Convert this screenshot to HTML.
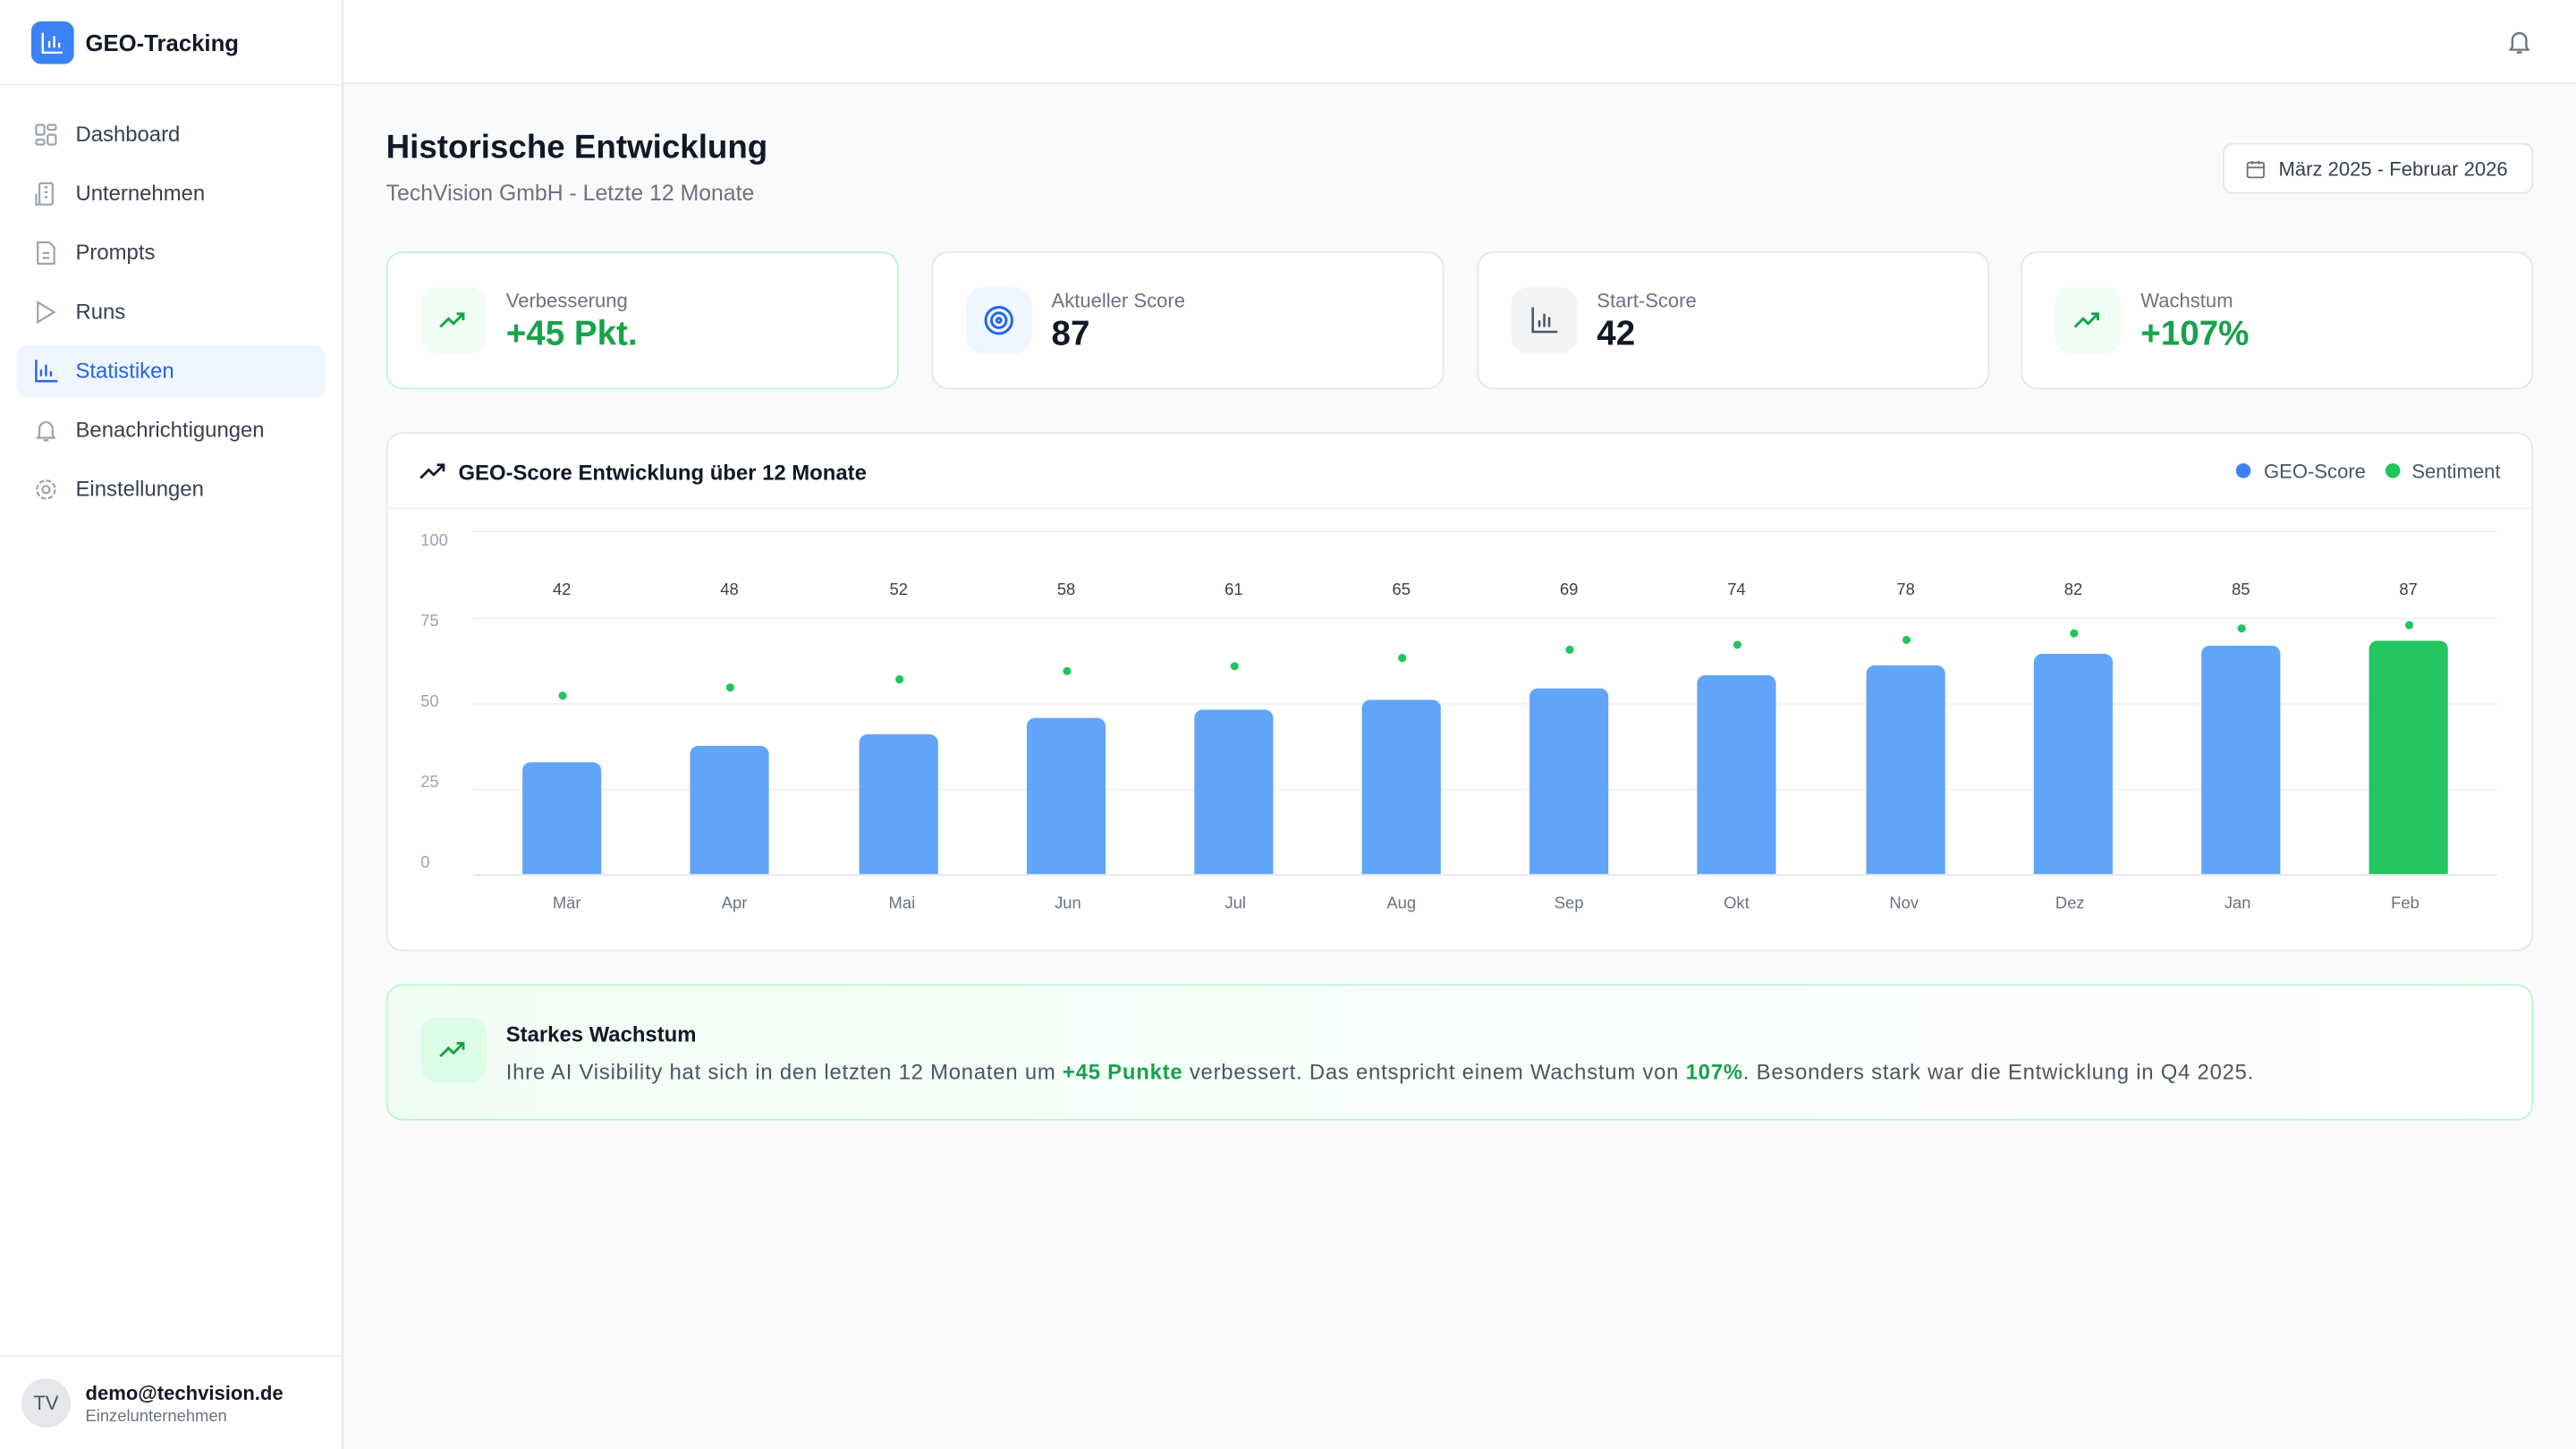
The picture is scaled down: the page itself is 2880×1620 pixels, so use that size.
<!DOCTYPE html>
<html><head><meta charset="utf-8"><style>
*{margin:0;padding:0;box-sizing:border-box}
html,body{width:2880px;height:1620px;overflow:hidden;background:#f9fafb;font-family:"Liberation Sans",sans-serif}
#s{position:absolute;left:0;top:0;width:1568px;height:882px;transform:scale(1.836735);transform-origin:0 0;background:#f9fafb}
.a{position:absolute}
.side{left:0;top:0;width:209px;height:882px;background:#fff;border-right:1px solid #e5e7eb}
.nav{position:absolute;left:10px;width:188px;height:32px;border-radius:7px;font-size:13px;color:#374151;padding-left:36px;line-height:32px}
.nav svg{position:absolute;left:10px;top:8px}
.card{background:#fff;border:1px solid #e5e7eb;border-radius:10px}
.ib{position:absolute;left:20px;top:21px;width:40px;height:40px;border-radius:10px}
.ib svg{position:absolute;left:10px;top:10px}
.cl{position:absolute;left:72px;top:22px;font-size:12px;color:#6b7280}
.cv{position:absolute;left:72px;top:38px;font-size:21px;font-weight:bold;color:#111827}
.g{color:#16a34a}
.yl{font-size:10px;color:#9ca3af}
.gl{height:1px;background:#f0f1f3;left:288px;width:1232px}
.bar{background:#60a5fa;border-radius:5px 5px 0 0;width:48px}
.dot{width:5px;height:5px;border-radius:50%;background:#22c55e;box-shadow:0 0 0 1px #fff}
.nl{font-size:10px;color:#374151;width:40px;text-align:center}
.ml{font-size:10px;color:#6b7280;width:40px;text-align:center}
</style></head><body><div id="s">
<div class="a side">
 <div class="a" style="left:19px;top:13px;width:26px;height:26px;border-radius:6px;background:#3b82f6">
  <svg class="a" style="left:6px;top:6px" width="14" height="14" viewBox="0 0 14 14" fill="none" stroke="#fff" stroke-width="1.3"><path d="M1 1v12h12M5 10V6M8 10V3M11 10V7"/></svg></div>
 <div class="a" style="left:52px;top:18px;font-size:14px;font-weight:bold;color:#111827">GEO-Tracking</div>
 <div class="a" style="left:0;top:51px;width:209px;height:1px;background:#eceef1"></div>
 <div class="nav" style="top:66px"><svg width="16" height="16" viewBox="0 0 16 16" fill="none" stroke="#9ca3af" stroke-width="1.2"><rect x="2" y="2" width="5" height="6" rx="1"/><rect x="9" y="2" width="5" height="3" rx="1"/><rect x="9" y="8" width="5" height="6" rx="1"/><rect x="2" y="11" width="5" height="3" rx="1"/></svg>Dashboard</div>
 <div class="nav" style="top:102px"><svg width="16" height="16" viewBox="0 0 16 16" fill="none" stroke="#9ca3af" stroke-width="1.2"><rect x="4" y="1.5" width="8" height="13" rx="1"/><path d="M2 8v6.5h2M7 4h2M7 7h2M7 10h2"/></svg>Unternehmen</div>
 <div class="nav" style="top:138px"><svg width="16" height="16" viewBox="0 0 16 16" fill="none" stroke="#9ca3af" stroke-width="1.2"><path d="M3 1.5h7l3 3v10H3z M6 8h4M6 11h4"/></svg>Prompts</div>
 <div class="nav" style="top:174px"><svg width="16" height="16" viewBox="0 0 16 16" fill="none" stroke="#9ca3af" stroke-width="1.2"><path d="M3 2l10 6-10 6z"/></svg>Runs</div>
 <div class="nav" style="top:210px;background:#eff6ff;color:#2563eb"><svg width="16" height="16" viewBox="0 0 16 16" fill="none" stroke="#2563eb" stroke-width="1.3"><path d="M2 1v13h13M5 11V7M8 11V4M11 11V8"/></svg>Statistiken</div>
 <div class="nav" style="top:246px"><svg width="16" height="16" viewBox="0 0 16 16" fill="none" stroke="#9ca3af" stroke-width="1.2"><path d="M4 11V7a4 4 0 018 0v4l1 1.5H3z M6.5 14h3"/></svg>Benachrichtigungen</div>
 <div class="nav" style="top:282px"><svg width="16" height="16" viewBox="0 0 16 16" fill="none" stroke="#9ca3af" stroke-width="1.2"><circle cx="8" cy="8" r="2.2"/><circle cx="8" cy="8" r="5.5" stroke-dasharray="3 1.3"/></svg>Einstellungen</div>
 <div class="a" style="left:0;top:825px;width:209px;height:1px;background:#eceef1"></div>
 <div class="a" style="left:13px;top:839px;width:30px;height:30px;border-radius:50%;background:#e5e7eb;font-size:12px;color:#4b5563;text-align:center;line-height:30px">TV</div>
 <div class="a" style="left:52px;top:841px;font-size:12px;font-weight:bold;color:#111827">demo@techvision.de</div>
 <div class="a" style="left:52px;top:857px;font-size:10px;color:#6b7280">Einzelunternehmen</div>
</div>
<div class="a" style="left:209px;top:0;width:1359px;height:51px;background:#fff;border-bottom:1px solid #e5e7eb"></div>
<svg class="a" style="left:1525px;top:17px" width="17" height="17" viewBox="0 0 16 16" fill="none" stroke="#6b7280" stroke-width="1.2"><path d="M4 11V7a4 4 0 018 0v4l1 1.5H3z M6.5 14h3"/></svg>
<div class="a" style="left:235px;top:79px;font-size:20px;font-weight:bold;color:#111827">Historische Entwicklung</div>
<div class="a" style="left:235px;top:110px;font-size:13.5px;color:#6b7280">TechVision GmbH - Letzte 12 Monate</div>
<div class="a" style="left:1353px;top:87px;width:189px;height:31px;background:#fff;border:1px solid #e5e7eb;border-radius:6px;font-size:12px;color:#374151;line-height:30px;padding-left:33px">März 2025 - Februar 2026
 <svg class="a" style="left:13px;top:9px" width="12" height="12" viewBox="0 0 12 12" fill="none" stroke="#6b7280" stroke-width="1"><rect x="1" y="2" width="10" height="9" rx="1"/><path d="M1 5h10M4 1v2M8 1v2"/></svg></div>

<div class="a card" style="left:235px;top:153px;width:312px;height:84px;border-color:#bbf7d0">
 <div class="ib" style="background:#f0fdf4"><svg width="20" height="20" viewBox="0 0 20 20" fill="none" stroke="#16a34a" stroke-width="1.6"><path d="M2 14l5-5 3 3 6-6M12 6h4v4"/></svg></div>
 <div class="cl">Verbesserung</div><div class="cv g">+45 Pkt.</div></div>
<div class="a card" style="left:567px;top:153px;width:312px;height:84px">
 <div class="ib" style="background:#eff6ff"><svg width="20" height="20" viewBox="0 0 20 20" fill="none" stroke="#2563eb" stroke-width="1.6"><circle cx="10" cy="10" r="8"/><circle cx="10" cy="10" r="4.5"/><circle cx="10" cy="10" r="1.3"/></svg></div>
 <div class="cl">Aktueller Score</div><div class="cv">87</div></div>
<div class="a card" style="left:899px;top:153px;width:312px;height:84px">
 <div class="ib" style="background:#f3f4f6"><svg width="20" height="20" viewBox="0 0 20 20" fill="none" stroke="#4b5563" stroke-width="1.4"><path d="M3 2v15h15M7 14v-4M10 14V6M13 14V8"/></svg></div>
 <div class="cl">Start-Score</div><div class="cv">42</div></div>
<div class="a card" style="left:1230px;top:153px;width:312px;height:84px">
 <div class="ib" style="background:#f0fdf4"><svg width="20" height="20" viewBox="0 0 20 20" fill="none" stroke="#16a34a" stroke-width="1.6"><path d="M2 14l5-5 3 3 6-6M12 6h4v4"/></svg></div>
 <div class="cl">Wachstum</div><div class="cv g">+107%</div></div>

<div class="a card" style="left:235px;top:263px;width:1307px;height:316px"></div>
<div class="a" style="left:236px;top:309px;width:1305px;height:1px;background:#f0f1f3"></div>
<svg class="a" style="left:255px;top:280px" width="16" height="14" viewBox="0 0 16 14" fill="none" stroke="#111827" stroke-width="1.5"><path d="M1 11l5-5 3 3 6-6M11 3h4v4"/></svg>
<div class="a" style="left:279px;top:280px;font-size:13px;font-weight:bold;color:#111827">GEO-Score Entwicklung über 12 Monate</div>
<div class="a" style="left:1361px;top:282px;width:9px;height:9px;border-radius:50%;background:#3b82f6"></div>
<div class="a" style="left:1378px;top:280px;font-size:12px;color:#4b5563">GEO-Score</div>
<div class="a" style="left:1452px;top:282px;width:9px;height:9px;border-radius:50%;background:#22c55e"></div>
<div class="a" style="left:1468px;top:280px;font-size:12px;color:#4b5563">Sentiment</div>

<div class="a gl" style="top:323px"></div><div class="a gl" style="top:376px"></div><div class="a gl" style="top:428px"></div><div class="a gl" style="top:480px"></div><div class="a gl" style="top:532px;background:#e5e7eb"></div>
<div class="a yl" style="left:256px;top:324px">100</div><div class="a yl" style="left:256px;top:373px">75</div><div class="a yl" style="left:256px;top:422px">50</div><div class="a yl" style="left:256px;top:471px">25</div><div class="a yl" style="left:256px;top:520px">0</div>

<div class="a bar" style="left:318px;top:464px;height:68px"></div>
<div class="a bar" style="left:420px;top:454px;height:78px"></div>
<div class="a bar" style="left:523px;top:447px;height:85px"></div>
<div class="a bar" style="left:625px;top:437px;height:95px"></div>
<div class="a bar" style="left:727px;top:432px;height:100px"></div>
<div class="a bar" style="left:829px;top:426px;height:106px"></div>
<div class="a bar" style="left:931px;top:419px;height:113px"></div>
<div class="a bar" style="left:1033px;top:411px;height:121px"></div>
<div class="a bar" style="left:1136px;top:405px;height:127px"></div>
<div class="a bar" style="left:1238px;top:398px;height:134px"></div>
<div class="a bar" style="left:1340px;top:393px;height:139px"></div>
<div class="a bar" style="left:1442px;top:390px;height:142px;background:#22c55e"></div>

<div class="a dot" style="left:340px;top:421px"></div>
<div class="a dot" style="left:442px;top:416px"></div>
<div class="a dot" style="left:545px;top:411px"></div>
<div class="a dot" style="left:647px;top:406px"></div>
<div class="a dot" style="left:749px;top:403px"></div>
<div class="a dot" style="left:851px;top:398px"></div>
<div class="a dot" style="left:953px;top:393px"></div>
<div class="a dot" style="left:1055px;top:390px"></div>
<div class="a dot" style="left:1158px;top:387px"></div>
<div class="a dot" style="left:1260px;top:383px"></div>
<div class="a dot" style="left:1362px;top:380px"></div>
<div class="a dot" style="left:1464px;top:378px"></div>

<div class="a nl" style="left:322px;top:354px">42</div><div class="a nl" style="left:424px;top:354px">48</div><div class="a nl" style="left:527px;top:354px">52</div><div class="a nl" style="left:629px;top:354px">58</div><div class="a nl" style="left:731px;top:354px">61</div><div class="a nl" style="left:833px;top:354px">65</div><div class="a nl" style="left:935px;top:354px">69</div><div class="a nl" style="left:1037px;top:354px">74</div><div class="a nl" style="left:1140px;top:354px">78</div><div class="a nl" style="left:1242px;top:354px">82</div><div class="a nl" style="left:1344px;top:354px">85</div><div class="a nl" style="left:1446px;top:354px">87</div>

<div class="a ml" style="left:325px;top:545px">Mär</div><div class="a ml" style="left:427px;top:545px">Apr</div><div class="a ml" style="left:529px;top:545px">Mai</div><div class="a ml" style="left:630px;top:545px">Jun</div><div class="a ml" style="left:732px;top:545px">Jul</div><div class="a ml" style="left:833px;top:545px">Aug</div><div class="a ml" style="left:935px;top:545px">Sep</div><div class="a ml" style="left:1037px;top:545px">Okt</div><div class="a ml" style="left:1139px;top:545px">Nov</div><div class="a ml" style="left:1240px;top:545px">Dez</div><div class="a ml" style="left:1342px;top:545px">Jan</div><div class="a ml" style="left:1444px;top:545px">Feb</div>

<div class="a" style="left:235px;top:599px;width:1307px;height:83px;border:1px solid #bbf7d0;border-radius:10px;background:linear-gradient(90deg,#f0fdf4,#ffffff)">
 <div class="ib" style="background:#dcfce7;left:20px;top:19px"><svg width="20" height="20" viewBox="0 0 20 20" fill="none" stroke="#16a34a" stroke-width="1.6"><path d="M2 14l5-5 3 3 6-6M12 6h4v4"/></svg></div>
 <div class="a" style="left:72px;top:22px;font-size:13px;font-weight:bold;color:#111827">Starkes Wachstum</div>
 <div class="a" style="left:72px;top:45px;font-size:13px;color:#4b5563;white-space:nowrap;letter-spacing:0.42px">Ihre AI Visibility hat sich in den letzten 12 Monaten um <b class="g">+45 Punkte</b> verbessert. Das entspricht einem Wachstum von <b class="g">107%</b>. Besonders stark war die Entwicklung in Q4 2025.</div>
</div>
</div></body></html>
